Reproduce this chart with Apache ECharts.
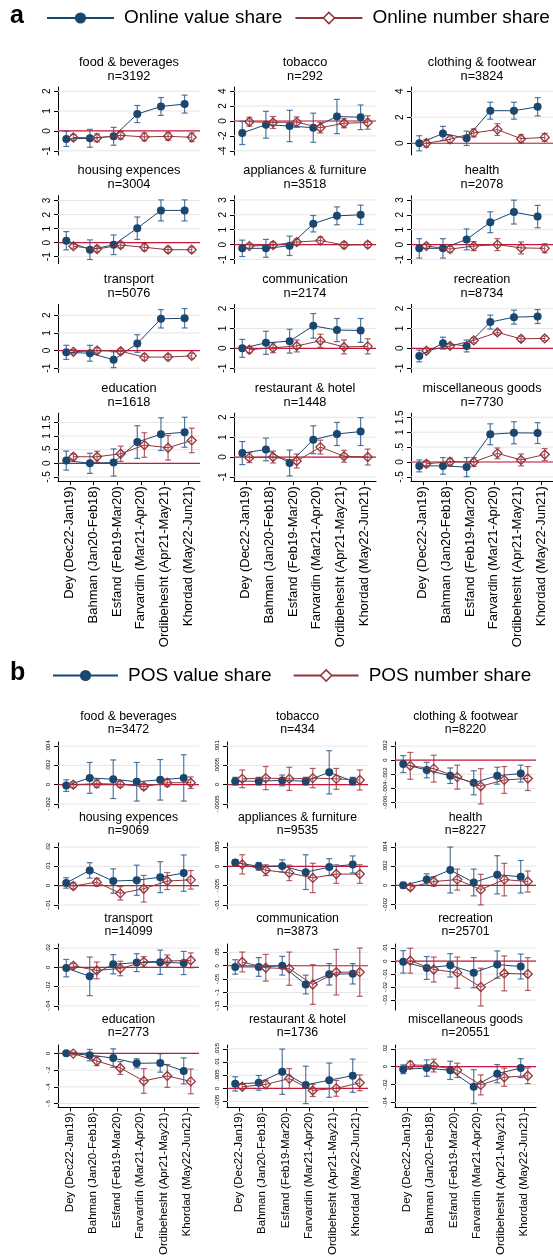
<!DOCTYPE html>
<html>
<head>
<meta charset="utf-8">
<script src="https://cdn.jsdelivr.net/npm/echarts@6/dist/echarts.min.js"></script>
<style>
html, body { margin: 0; padding: 0; background: #fff; }
#chart { width: 553px; height: 1258px; }
</style>
</head>
<body>
<div id="chart"></div>
<script>
const periods = ['Dey (Dec22-Jan19)', 'Bahman (Jan20-Feb18)', 'Esfand (Feb19-Mar20)',
  'Farvardin (Mar21-Apr20)', 'Ordibehesht (Apr21-May21)', 'Khordad (May22-Jun21)']
const categories = ['food & beverages', 'tobacco', 'clothing & footwear', 'housing expences',
  'appliances & furniture', 'health', 'transport', 'communication', 'recreation',
  'education', 'restaurant & hotel', 'miscellaneous goods']

const onlineN = [3192, 292, 3824, 3004, 3518, 2078, 5076, 2174, 8734, 1618, 1448, 7730]
const posN = [3472, 434, 8220, 9069, 9535, 8227, 14099, 3873, 25701, 2773, 1736, 20551]

// panel a: online shares (point estimate, CI half width)
const onlineValue = [
  [-0.40, -0.37, -0.27, 0.85, 1.23, 1.35],
  [-1.6, -0.5, -0.67, -0.9, 0.6, 0.5],
  [0.0, 0.75, 0.38, 2.5, 2.5, 2.8],
  [0.14, -0.5, -0.15, 1.03, 2.3, 2.3],
  [-0.25, -0.25, -0.08, 1.4, 1.93, 2.0],
  [-0.25, -0.25, 0.35, 1.5, 2.18, 1.88],
  [-0.1, -0.15, -0.52, 0.4, 1.8, 1.83],
  [0.0, 0.28, 0.36, 1.13, 0.92, 0.9],
  [-0.38, 0.26, 0.12, 1.32, 1.57, 1.6],
  [0.1, 0.0, 0.03, 0.78, 1.07, 1.14],
  [0.2, 0.38, -0.3, 0.87, 1.16, 1.28],
  [-0.13, -0.13, -0.17, 0.93, 0.98, 0.97]
]
const onlineValueErr = [
  [0.38, 0.45, 0.45, 0.43, 0.45, 0.45],
  [1.55, 1.8, 2.1, 1.95, 2.3, 1.65],
  [0.58, 0.55, 0.55, 0.65, 0.65, 0.7],
  [0.65, 0.7, 0.7, 0.8, 0.75, 0.75],
  [0.55, 0.6, 0.65, 0.55, 0.6, 0.65],
  [0.65, 0.65, 0.7, 0.7, 0.8, 0.75],
  [0.4, 0.45, 0.45, 0.5, 0.52, 0.55],
  [0.45, 0.58, 0.6, 0.62, 0.58, 0.6],
  [0.3, 0.3, 0.3, 0.35, 0.35, 0.35],
  [0.35, 0.37, 0.5, 0.6, 0.6, 0.55],
  [0.58, 0.57, 0.65, 0.7, 0.58, 0.7],
  [0.2, 0.28, 0.32, 0.35, 0.37, 0.35]
]
const onlineNumber = [
  [-0.33, -0.35, -0.22, -0.3, -0.27, -0.32],
  [-0.1, -0.2, -0.15, -0.9, -0.3, -0.2],
  [0.0, 0.3, 0.8, 1.05, 0.35, 0.45],
  [-0.25, -0.45, -0.17, -0.33, -0.5, -0.5],
  [-0.1, -0.03, 0.17, 0.27, -0.03, 0.0],
  [-0.1, -0.3, -0.1, 0.0, -0.22, -0.25],
  [-0.07, 0.0, -0.04, -0.37, -0.37, -0.3],
  [-0.07, 0.03, 0.12, 0.38, 0.07, 0.1],
  [-0.12, 0.12, 0.4, 0.8, 0.48, 0.5],
  [0.24, 0.24, 0.35, 0.67, 0.57, 0.84],
  [-0.03, 0.0, -0.2, 0.5, 0.04, 0.0],
  [-0.06, 0.01, 0.0, 0.29, 0.07, 0.25]
]
const onlineNumberErr = [
  [0.15, 0.2, 0.2, 0.2, 0.2, 0.22],
  [0.6, 0.8, 0.7, 0.7, 0.6, 0.9],
  [0.3, 0.3, 0.3, 0.45, 0.3, 0.3],
  [0.15, 0.2, 0.2, 0.25, 0.2, 0.2],
  [0.15, 0.2, 0.2, 0.25, 0.2, 0.2],
  [0.15, 0.2, 0.3, 0.4, 0.4, 0.3],
  [0.12, 0.15, 0.15, 0.18, 0.15, 0.15],
  [0.15, 0.25, 0.3, 0.33, 0.35, 0.38],
  [0.1, 0.12, 0.13, 0.13, 0.13, 0.12],
  [0.1, 0.2, 0.28, 0.45, 0.45, 0.45],
  [0.25, 0.3, 0.35, 0.35, 0.3, 0.4],
  [0.1, 0.12, 0.15, 0.18, 0.2, 0.2]
]
const onlineTicks = [
  [-1, 0, 1, 2], [-4, -2, 0, 2, 4], [0, 2, 4],
  [-1, 0, 1, 2, 3], [-1, 0, 1, 2, 3], [-1, 0, 1, 2, 3],
  [-1, 0, 1, 2], [-1, 0, 1, 2], [-1, 0, 1, 2],
  [-0.5, 0, 0.5, 1, 1.5], [-1, 0, 1, 2], [-0.5, 0, 0.5, 1, 1.5]
]

// panel b: POS shares
const posValue = [
  [-0.0001, 0.0007, 0.00056, 0.0003, 0.0005, 0.0007],
  [0.00009, 0.00009, 0.00011, 0.00009, 0.00032, 0.00009],
  [-0.00055, -0.0014, -0.0022, -0.0032, -0.0022, -0.0019],
  [0.0014, 0.0079, 0.0024, 0.0028, 0.0044, 0.0065],
  [0.001, 0.0, 0.0001, -0.0015, -0.0002, 0.0005],
  [0.0, 0.0006, 0.0016, 0.0003, 0.0011, 0.0009],
  [-0.0008, -0.0093, 0.0032, 0.0049, 0.0053, 0.0045],
  [-0.0045, -0.0045, 0.0, -0.07, -0.032, -0.03],
  [-0.0006, -0.0053, -0.0033, -0.0089, -0.0027, -0.0042],
  [0.0, -0.022, -0.057, -0.12, -0.115, -0.21],
  [0.0017, 0.0021, 0.0063, 0.0013, 0.0031, 0.0048],
  [-0.0029, -0.0016, -0.0041, -0.0224, -0.0078, -0.0016]
]
const posValueErr = [
  [0.0006, 0.0016, 0.002, 0.002, 0.0021, 0.0024],
  [0.0001, 0.0001, 0.00014, 0.0001, 0.00056, 0.0001],
  [0.0012, 0.0011, 0.0011, 0.0017, 0.0012, 0.0012],
  [0.0027, 0.004, 0.0063, 0.0078, 0.008, 0.0094],
  [0.0007, 0.001, 0.0016, 0.0045, 0.0022, 0.0022],
  [0.0003, 0.0006, 0.0024, 0.0014, 0.002, 0.0017],
  [0.009, 0.02, 0.01, 0.0093, 0.0126, 0.012],
  [0.027, 0.035, 0.035, 0.035, 0.04, 0.038],
  [0.0086, 0.0088, 0.009, 0.0116, 0.0105, 0.0096],
  [0.02, 0.068, 0.11, 0.055, 0.11, 0.155],
  [0.0027, 0.0028, 0.0086, 0.0071, 0.0065, 0.0063],
  [0.0049, 0.0092, 0.0102, 0.019, 0.0102, 0.0106]
]
const posNumber = [
  [0.0, 0.0001, 0.00005, -0.0002, 0.0002, 0.0002],
  [0.00015, 0.00017, 0.00015, 0.00017, 0.00015, 0.00012],
  [-0.0008, -0.0012, -0.0024, -0.0037, -0.0028, -0.0026],
  [-0.0002, 0.0018, -0.004, -0.0016, 0.0024, 0.003],
  [0.0005, -0.001, -0.0017, -0.003, -0.002, -0.002],
  [-0.0002, 0.0004, 0.0006, -0.00045, 0.0006, 0.0004],
  [0.0016, -0.0032, -0.0012, 0.0057, 0.0065, 0.0073],
  [0.014, -0.0075, -0.011, -0.07, -0.024, -0.024],
  [0.0003, -0.0065, -0.0089, -0.02, -0.0095, -0.01],
  [-0.004, -0.092, -0.175, -0.33, -0.27, -0.335],
  [0.0006, 0.0015, 0.0037, -0.0008, 0.0, 0.0021],
  [0.002, 0.0012, -0.0041, -0.0204, -0.0118, -0.0102]
]
const posNumberErr = [
  [0.0003, 0.0004, 0.0003, 0.0003, 0.0004, 0.0006],
  [0.00023, 0.0003, 0.0003, 0.00025, 0.00027, 0.00026],
  [0.0019, 0.0019, 0.0017, 0.0025, 0.0019, 0.0017],
  [0.0016, 0.002, 0.0035, 0.0069, 0.0044, 0.0048],
  [0.0025, 0.0014, 0.002, 0.0038, 0.0024, 0.0024],
  [0.00026, 0.0005, 0.0011, 0.0016, 0.0017, 0.0011],
  [0.0025, 0.0087, 0.0075, 0.0055, 0.0063, 0.0077],
  [0.037, 0.05, 0.062, 0.074, 0.085, 0.09],
  [0.0096, 0.0096, 0.012, 0.0145, 0.0134, 0.0126],
  [0.015, 0.055, 0.077, 0.147, 0.136, 0.148],
  [0.0009, 0.0016, 0.0038, 0.0023, 0.003, 0.003],
  [0.004, 0.0071, 0.008, 0.0112, 0.0102, 0.0088]
]
const posTicks = [
  [-0.002, 0, 0.002, 0.004], [-0.0005, 0, 0.0005, 0.001], [-0.006, -0.004, -0.002, 0, 0.002],
  [-0.01, 0, 0.01, 0.02], [-0.01, -0.005, 0, 0.005], [-0.002, 0, 0.002, 0.004],
  [-0.04, -0.02, 0, 0.02], [-0.15, -0.1, -0.05, 0, 0.05], [-0.03, -0.02, -0.01, 0, 0.01],
  [-0.6, -0.4, -0.2, 0], [-0.005, 0, 0.005, 0.01, 0.015], [-0.04, -0.02, 0, 0.02]
]

const FONT = '"Liberation Sans", Arial, sans-serif'
const BLUE = '#1a476f'
const RED = '#90353b'
const BLUE_CI = 'rgba(40,88,135,0.8)'
const RED_CI = 'rgba(160,55,65,0.8)'
const ZERO = '#c8193c'
const GRID = '#e6e6e6'
const OFFSET = 0.15

const panels = [
  {
    key: 'a', names: ['Online value share', 'Online number share'],
    value: onlineValue, valueErr: onlineValueErr, number: onlineNumber, numberErr: onlineNumberErr,
    ticks: onlineTicks, n: onlineN,
    keyTop: 4, legendTop: 8.5, legendLeft: 46, legendItemW: 67, legendGap: 12,
    cols: [58, 234, 411], width: 142, rowTop: 87, rowStep: 108.7, height: 68,
    titleSize: 12.75, titleLine: 14, titleGap: 25, yFont: 10, yMargin: 6, xFont: 13
  },
  {
    key: 'b', names: ['POS value share', 'POS number share'],
    value: posValue, valueErr: posValueErr, number: posNumber, numberErr: posNumberErr,
    ticks: posTicks, n: posN,
    keyTop: 661, legendTop: 666, legendLeft: 52, legendItemW: 65, legendGap: 21,
    cols: [58, 227, 395], width: 141, rowTop: 742, rowStep: 101, height: 66,
    titleSize: 12.3, titleLine: 13, titleGap: 25, yFont: 6, yMargin: 7, xFont: 11.5
  }
]

const statFmt = v => v === 0 ? '0' : String(v).replace(/^(-?)0\./, '$1.')

function yRange(ticks, pairs) {
  let lo = ticks[0], hi = ticks[ticks.length - 1]
  pairs.forEach(([vals, errs]) => vals.forEach((v, i) => {
    lo = Math.min(lo, v - errs[i])
    hi = Math.max(hi, v + errs[i])
  }))
  const pad = (hi - lo) * 0.07
  return [lo - pad, hi + pad]
}

const hline = (color, width) => (params, api) => {
  const y = api.coord([1, api.value(1)])[1]
  const cs = params.coordSys
  return {
    type: 'line',
    shape: { x1: cs.x, y1: y, x2: cs.x + cs.width, y2: y },
    style: { stroke: color, lineWidth: width }
  }
}

const errorBar = color => (params, api) => {
  const x = api.value(0)
  const lo = api.coord([x, api.value(1)])
  const hi = api.coord([x, api.value(2)])
  const style = { stroke: color, lineWidth: 1.2 }
  return {
    type: 'group',
    children: [
      { type: 'line', shape: { x1: lo[0], y1: lo[1], x2: hi[0], y2: hi[1] }, style },
      { type: 'line', shape: { x1: lo[0] - 3, y1: lo[1], x2: lo[0] + 3, y2: lo[1] }, style },
      { type: 'line', shape: { x1: hi[0] - 3, y1: hi[1], x2: hi[0] + 3, y2: hi[1] }, style }
    ]
  }
}

const grid = [], xAxis = [], yAxis = [], series = [], title = [], legend = []
const positions = [1, 2, 3, 4, 5, 6]

panels.forEach(p => {
  title.push({
    text: p.key, left: 10, top: p.keyTop, padding: 0,
    textStyle: { fontFamily: FONT, fontSize: 25, fontWeight: 'bold', color: '#000' }
  })
  legend.push({
    left: p.legendLeft, top: p.legendTop, padding: 0, selectedMode: false,
    itemWidth: p.legendItemW, itemHeight: 14, itemGap: p.legendGap,
    lineStyle: { width: 2 },
    textStyle: { fontFamily: FONT, fontSize: 19, color: '#000', padding: [0, 0, 0, 5] },
    data: [
      { name: p.names[0] },
      { name: p.names[1], itemStyle: { color: '#fff', borderColor: RED, borderWidth: 1.5 } }
    ]
  })

  categories.forEach((cat, ci) => {
    const row = Math.floor(ci / 3), col = ci % 3
    const top = p.rowTop + row * p.rowStep
    const left = p.cols[col]
    const gi = grid.length
    const ticks = p.ticks[ci]
    const vals = p.value[ci], valErr = p.valueErr[ci]
    const nums = p.number[ci], numErr = p.numberErr[ci]
    const [ymin, ymax] = yRange(ticks, [[vals, valErr], [nums, numErr]])
    const last = row === 3

    grid.push({ left: left, top: top, width: p.width, height: p.height })
    title.push({
      text: cat + '\nn=' + p.n[ci],
      left: left + p.width / 2, textAlign: 'center',
      top: top - p.titleGap - p.titleLine / 2, padding: 0,
      textStyle: { fontFamily: FONT, fontSize: p.titleSize, lineHeight: p.titleLine, fontWeight: 'normal', color: '#000' }
    })

    xAxis.push({
      gridIndex: gi, type: 'value', min: 0.5, max: 6.5,
      axisLine: { show: last, onZero: false, lineStyle: { color: '#000', width: 1 } },
      axisTick: { show: last, customValues: positions, length: 4, lineStyle: { color: '#000' } },
      axisLabel: {
        show: last, customValues: positions, rotate: 90, margin: 5,
        formatter: v => periods[Math.round(v) - 1],
        fontFamily: FONT, fontSize: p.xFont, color: '#000'
      },
      splitLine: { show: false }
    })
    yAxis.push({
      gridIndex: gi, type: 'value', min: ymin, max: ymax,
      axisLine: { show: true, onZero: false, lineStyle: { color: '#000', width: 1 } },
      axisTick: { show: true, customValues: ticks, length: 4, lineStyle: { color: '#000' } },
      axisLabel: {
        customValues: ticks, rotate: 90, margin: p.yMargin, formatter: statFmt,
        fontFamily: FONT, fontSize: p.yFont, color: '#000'
      },
      splitLine: { show: false }
    })

    series.push({
      type: 'custom', xAxisIndex: gi, yAxisIndex: gi, silent: true, z: 1,
      data: ticks.map(t => [1, t]), renderItem: hline(GRID, 1)
    })
    series.push({
      type: 'custom', xAxisIndex: gi, yAxisIndex: gi, silent: true, z: 2,
      data: [[1, 0]], renderItem: hline(ZERO, 1.2)
    })
    series.push({
      type: 'custom', xAxisIndex: gi, yAxisIndex: gi, silent: true, z: 3,
      encode: { x: 0, y: [1, 2] },
      data: vals.map((v, i) => [positions[i] - OFFSET, v - valErr[i], v + valErr[i]]),
      renderItem: errorBar(BLUE_CI)
    })
    series.push({
      type: 'custom', xAxisIndex: gi, yAxisIndex: gi, silent: true, z: 3,
      encode: { x: 0, y: [1, 2] },
      data: nums.map((v, i) => [positions[i] + OFFSET, v - numErr[i], v + numErr[i]]),
      renderItem: errorBar(RED_CI)
    })
    series.push({
      name: p.names[0], type: 'line', xAxisIndex: gi, yAxisIndex: gi, z: 4,
      data: vals.map((v, i) => [positions[i] - OFFSET, v]),
      symbol: 'circle', symbolSize: 8,
      lineStyle: { color: BLUE, width: 1 },
      itemStyle: { color: BLUE }
    })
    series.push({
      name: p.names[1], type: 'line', xAxisIndex: gi, yAxisIndex: gi, z: 5,
      data: nums.map((v, i) => [positions[i] + OFFSET, v]),
      symbol: 'diamond', symbolSize: 9,
      lineStyle: { color: RED, width: 1 },
      itemStyle: { color: 'rgba(255,255,255,0)', borderColor: RED, borderWidth: 1.3 }
    })
  })
})

const chart = echarts.init(document.getElementById('chart'), null, { renderer: 'canvas' })
chart.setOption({
  animation: false,
  backgroundColor: '#fff',
  title: title,
  legend: legend,
  grid: grid,
  xAxis: xAxis,
  yAxis: yAxis,
  series: series
})
</script>
</body>
</html>
